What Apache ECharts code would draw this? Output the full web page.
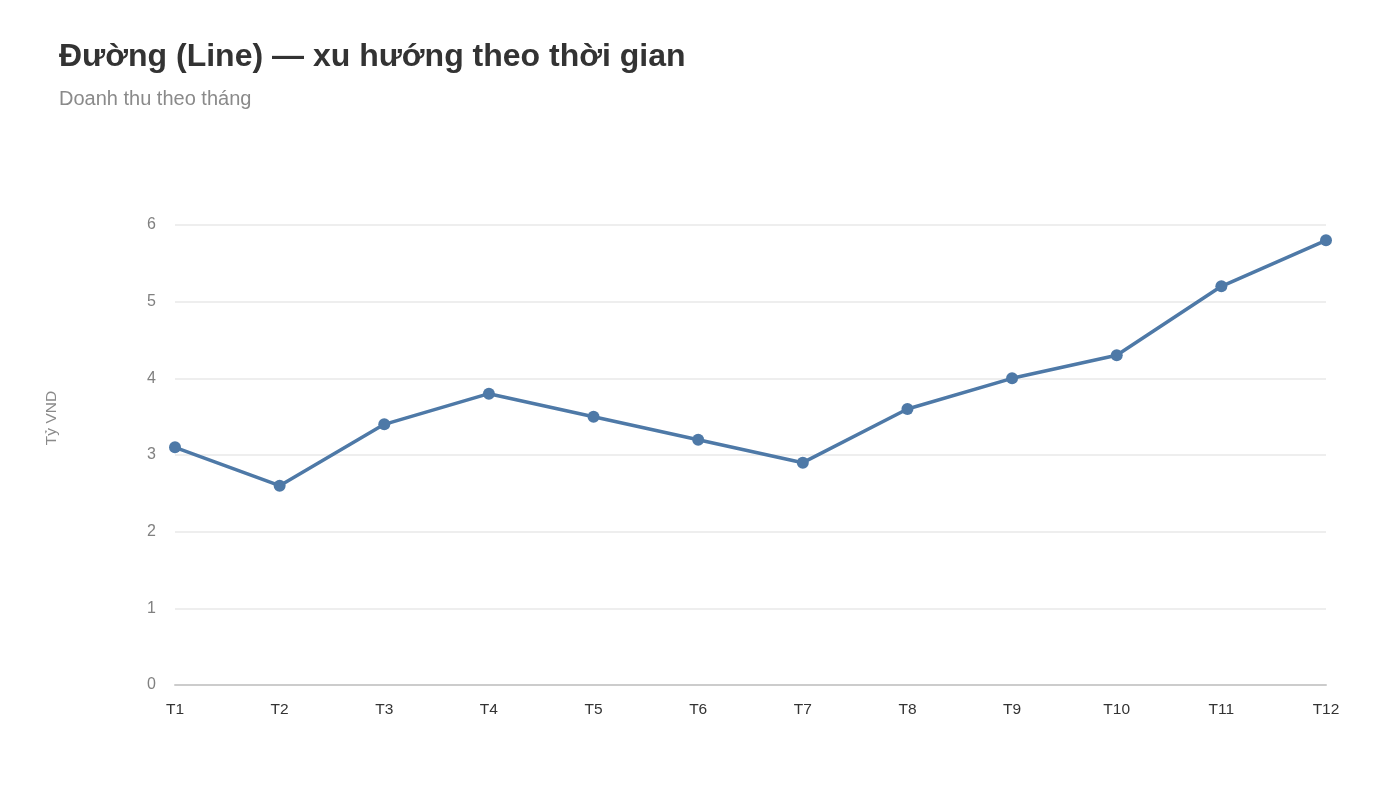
<!DOCTYPE html>
<html>
<head>
<meta charset="utf-8">
<script src="https://cdn.jsdelivr.net/npm/echarts@6/dist/echarts.min.js"></script>
<style>
  html, body { margin: 0; padding: 0; background: #fff; }
  #chart { width: 1400px; height: 787px; }
</style>
</head>
<body>
<div id="chart"></div>
<script>
const thang = ["T1", "T2", "T3", "T4", "T5", "T6", "T7", "T8", "T9", "T10", "T11", "T12"];
const doanhThu = [3.1, 2.6, 3.4, 3.8, 3.5, 3.2, 2.9, 3.6, 4.0, 4.3, 5.2, 5.8];

const font = "Liberation Sans";
const myChart = echarts.init(document.getElementById("chart"));

const option = {
    backgroundColor: "#ffffff",
    textStyle: { fontFamily: font },
    title: {
        text: "Đường (Line) — xu hướng theo thời gian",
        subtext: "Doanh thu theo tháng",
        left: 54,
        top: 36,
        itemGap: 16,
        textStyle: { fontFamily: font, fontSize: 32, fontWeight: "bold", color: "#333333" },
        subtextStyle: { fontFamily: font, fontSize: 20, color: "#8a8a8a" }
    },
    grid: {
        left: 175,
        right: 74,
        top: 225,
        bottom: 102
    },
    xAxis: {
        type: "category",
        data: thang,
        boundaryGap: false,
        axisLine: { lineStyle: { color: "#cccccc", width: 2 } },
        axisTick: { show: false },
        axisLabel: { fontFamily: font, color: "#333333", fontSize: 15.5, margin: 17 },
        splitLine: { show: false }
    },
    yAxis: {
        type: "value",
        min: 0,
        max: 6,
        interval: 1,
        name: "Tỷ VND",
        nameLocation: "middle",
        nameGap: 115,
        nameTextStyle: { fontFamily: font, color: "#8a8a8a", fontSize: 15.5, padding: [0, 0, 0, 74] },
        axisLine: { show: false },
        axisTick: { show: false },
        axisLabel: { fontFamily: font, color: "#808080", fontSize: 16, margin: 19 },
        splitLine: { lineStyle: { color: "#e8e8e8", width: 1.5 } }
    },
    series: [
        {
            type: "line",
            data: doanhThu,
            symbol: "circle",
            symbolSize: 12,
            lineStyle: { color: "#4e79a7", width: 3.5 },
            itemStyle: { color: "#4e79a7" }
        }
    ]
};

myChart.setOption(option);
</script>
</body>
</html>
